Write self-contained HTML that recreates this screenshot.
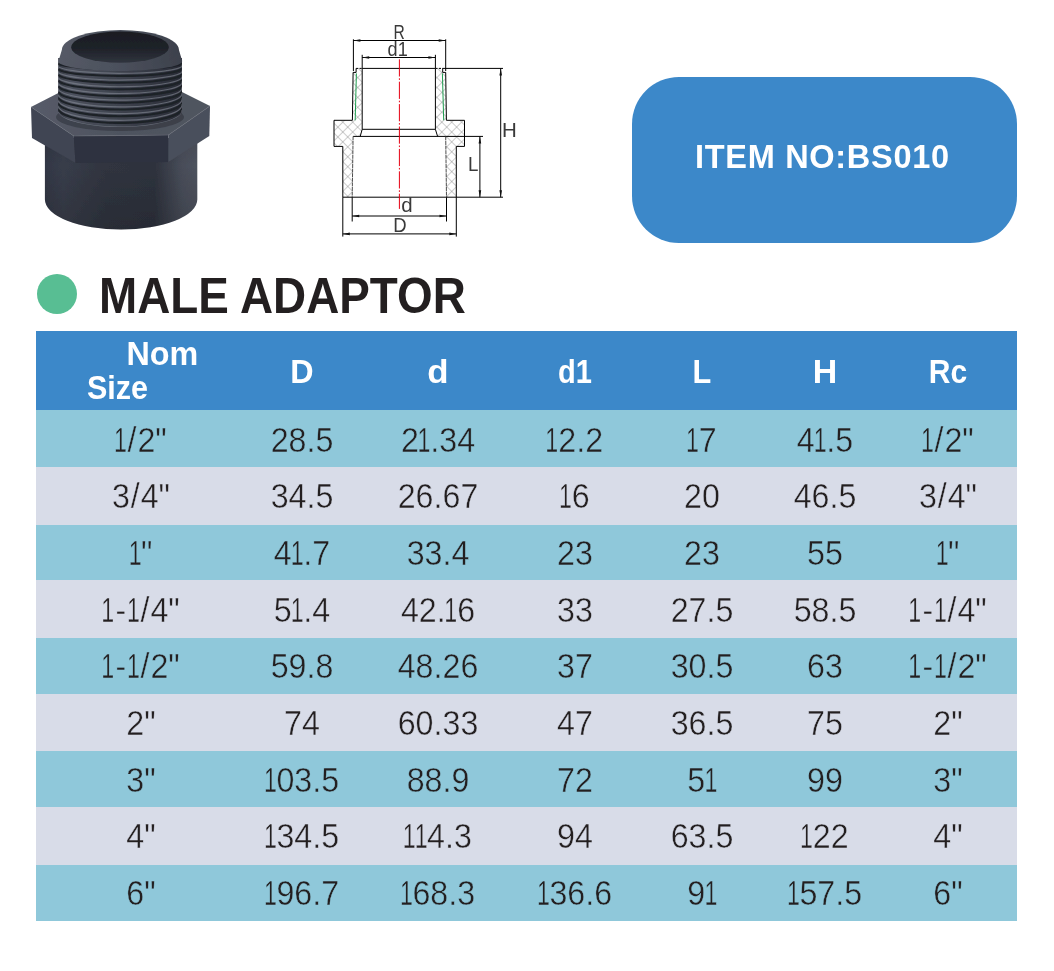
<!DOCTYPE html>
<html lang="en">
<head>
<meta charset="utf-8">
<title>Male Adaptor BS010</title>
<style>
html,body{margin:0;padding:0;background:#fff;}
body{width:1054px;height:971px;position:relative;overflow:hidden;font-family:"Liberation Sans",sans-serif;color:#231f20;}
.abs{position:absolute;}
#photo{left:0;top:0;width:300px;height:260px;}
#diagram{left:300px;top:10px;width:260px;height:240px;}
#item{left:632px;top:77px;width:385px;height:165.7px;border-radius:47px;background:#3c88c9;}
#item span{position:absolute;left:63px;top:62px;white-space:nowrap;font-weight:bold;font-size:32.5px;line-height:36px;color:#fff;letter-spacing:0.7px;}
#dot{left:37px;top:274px;width:40px;height:40px;border-radius:50%;background:#58be93;}
#title{left:99px;top:267.7px;font-weight:bold;font-size:49.3px;line-height:56px;white-space:nowrap;color:#231f20;transform:scaleX(.93);transform-origin:0 0;}
#tbl{left:36px;top:331px;width:981px;height:590px;}
.hd{position:absolute;left:0;top:0;width:981px;height:79px;background:#3c88c9;color:#fff;font-weight:bold;font-size:32.3px;}
.hn{line-height:34px;white-space:nowrap;transform-origin:0 0;}
.row{position:absolute;left:0;width:981px;font-size:35px;color:#231f20;}
.row .s{margin:0 1px;}
.row .h{margin:0 2px;}
.row i{font-style:normal;display:inline-block;transform:scaleX(.72);margin:0 -3px 0 -4px;}
.row.a{background:#8fc8da;}
.row.b{background:#d8dce8;}
.c{position:absolute;top:0;width:200px;text-align:center;white-space:nowrap;line-height:56px;}
.row .c{transform:scaleX(.92);}
.row.a .c{-webkit-text-stroke:0.45px #8fc8da;}
.row.b .c{-webkit-text-stroke:0.45px #d8dce8;}
.hd .c{line-height:79px;top:1.6px;}
.c1{left:5px}.c2{left:166px}.c3{left:302px}.c4{left:439px}.c5{left:566px}.c6{left:689px}.c7{left:812px}
</style>
</head>
<body>
<svg id="photo" class="abs" viewBox="0 0 300 260">
  <defs>
    <clipPath id="cpT"><path d="M58.2 40V112A61.8 16 0 0 0 181.9 110V40Z"/></clipPath>
    <filter id="soft" x="-5%" y="-5%" width="110%" height="110%"><feGaussianBlur stdDeviation="0.7"/></filter>
    <linearGradient id="gBody" x1="0" y1="0" x2="1" y2="0">
      <stop offset="0" stop-color="#323745"/>
      <stop offset="0.12" stop-color="#383d4a"/>
      <stop offset="0.4" stop-color="#30343f"/>
      <stop offset="0.72" stop-color="#2e323d"/>
      <stop offset="0.9" stop-color="#484d59"/>
      <stop offset="1" stop-color="#4e535e"/>
    </linearGradient>
    <linearGradient id="gBodyV" x1="0" y1="0" x2="0" y2="1">
      <stop offset="0" stop-color="#000" stop-opacity="0.08"/>
      <stop offset="0.3" stop-color="#000" stop-opacity="0"/>
      <stop offset="1" stop-color="#000" stop-opacity="0.15"/>
    </linearGradient>
    <linearGradient id="gThread" x1="0" y1="0" x2="1" y2="0">
      <stop offset="0" stop-color="#343843"/>
      <stop offset="0.1" stop-color="#4c515d"/>
      <stop offset="0.35" stop-color="#434853"/>
      <stop offset="0.7" stop-color="#363a45"/>
      <stop offset="0.92" stop-color="#2c2f39"/>
      <stop offset="1" stop-color="#262932"/>
    </linearGradient>
    <linearGradient id="gTop" x1="0" y1="0" x2="1" y2="0">
      <stop offset="0" stop-color="#565b68"/>
      <stop offset="0.5" stop-color="#4e535f"/>
      <stop offset="1" stop-color="#50555f"/>
    </linearGradient>
    <linearGradient id="gHole" x1="0" y1="0" x2="0" y2="1">
      <stop offset="0" stop-color="#1a1c23"/>
      <stop offset="0.55" stop-color="#1f2229"/>
      <stop offset="1" stop-color="#30343e"/>
    </linearGradient>
    <linearGradient id="gRim" x1="0" y1="0" x2="1" y2="0">
      <stop offset="0" stop-color="#555a66"/>
      <stop offset="0.5" stop-color="#4b505c"/>
      <stop offset="1" stop-color="#3d414c"/>
    </linearGradient>
  </defs>
  <g filter="url(#soft)">
    <path d="M44.9 138V199.5A76.2 30 0 0 0 197.3 199.5V138Z" fill="url(#gBody)"/>
    <path d="M44.9 138V199.5A76.2 30 0 0 0 197.3 199.5V138Z" fill="url(#gBodyV)"/>
    <path d="M31 107L72 86H170L210 106L168.4 135L73.8 136Z" fill="url(#gTop)"/>
    <path d="M31 107L73.8 136L75.5 163L32 138Z" fill="#3f4452"/>
    <path d="M73.8 136L168.4 135V162L75.5 163Z" fill="#2e323f"/>
    <path d="M168.4 135L210 106L209.3 136L168.4 162Z" fill="#4a4f5b"/>
    <path d="M31 107L73.8 136L168.4 135L210 106" fill="none" stroke="#626773" stroke-width="1" opacity=".6"/>
    <ellipse cx="120" cy="117" rx="64" ry="14" fill="#2a2d36" opacity=".5"/>
    <path d="M58.2 58V112A61.8 16 0 0 0 181.9 110V58Z" fill="url(#gThread)"/>
    <g fill="none" stroke-width="2.1" stroke="#1d2027" clip-path="url(#cpT)">
      <path d="M58.2 63.6A61.8 7.0 0 0 0 181.9 60.6"/><path d="M58.2 69.3A61.8 8.0 0 0 0 181.9 66.4"/><path d="M58.2 74.9A61.8 9.0 0 0 0 181.9 72.2"/><path d="M58.2 80.6A61.8 10.0 0 0 0 181.9 77.9"/><path d="M58.2 86.3A61.8 11.0 0 0 0 181.9 83.7"/><path d="M58.2 91.9A61.8 12.0 0 0 0 181.9 89.5"/><path d="M58.2 97.6A61.8 13.0 0 0 0 181.9 95.3"/><path d="M58.2 103.3A61.8 14.0 0 0 0 181.9 101.0"/><path d="M58.2 108.9A61.8 15.0 0 0 0 181.9 106.8"/><path d="M58.2 114.6A61.8 16.0 0 0 0 181.9 112.6"/>
    </g>
    <g fill="none" stroke-width="1.2" stroke="#868b96" opacity=".6" clip-path="url(#cpT)">
      <path d="M58.2 61.0A61.8 7.0 0 0 0 181.9 58.0"/><path d="M58.2 66.7A61.8 8.0 0 0 0 181.9 63.8"/><path d="M58.2 72.3A61.8 9.0 0 0 0 181.9 69.6"/><path d="M58.2 78.0A61.8 10.0 0 0 0 181.9 75.3"/><path d="M58.2 83.7A61.8 11.0 0 0 0 181.9 81.1"/><path d="M58.2 89.3A61.8 12.0 0 0 0 181.9 86.9"/><path d="M58.2 95.0A61.8 13.0 0 0 0 181.9 92.7"/><path d="M58.2 100.7A61.8 14.0 0 0 0 181.9 98.4"/><path d="M58.2 106.3A61.8 15.0 0 0 0 181.9 104.2"/><path d="M58.2 112.0A61.8 16.0 0 0 0 181.9 110.0"/>
    </g>
    <path d="M58.2 62L61.9 49.8H178.9L181.9 60A61.8 10 0 0 1 58.2 62Z" fill="url(#gRim)"/>
    <ellipse cx="120.4" cy="49.8" rx="58.5" ry="19.8" fill="url(#gRim)"/>
    <ellipse cx="120" cy="47.2" rx="48.8" ry="15.6" fill="url(#gHole)"/>
  </g>
</svg>
<svg id="diagram" class="abs" viewBox="300 10 260 240">
  <defs>
    <pattern id="hatch" patternUnits="userSpaceOnUse" width="7" height="7" patternTransform="rotate(45 340 120)">
      <path d="M0 0H7M0 0V7" stroke="#7a7a7a" stroke-width="0.75" fill="none"/>
    </pattern>
  </defs>
  <!-- hatched wall sections -->
  <path fill="url(#hatch)" d="M356.1 68.4H362.2V129.3L360.2 136.4H353.1L352.2 197.2H342.8V146.4H334V120.3H352.4L353.1 72.4H356.1Z"/>
  <path fill="url(#hatch)" d="M442.7 68.4H435.4V129.3L437.6 136.4H445.7L446.5 197.2H456.3V146.4H464.5V120.3H446.4L445.7 72.4H442.7Z"/>
  <g fill="none" stroke="#000" stroke-width="1" stroke-linecap="butt">
    <!-- outline left -->
    <path d="M356.1 68.4V72.4H353.1L352.4 120.3H334V146.4H342.8V197.2"/>
    <path d="M442.7 68.4V72.4H445.7L446.4 120.3H464.5V146.4H456.3V197.2"/>
    <!-- top & bottom long lines -->
    <path d="M362.2 68.4H435.4M442.7 68.4H503"/>
    <path d="M356.1 68.4H362.2M435.4 68.4H442.7" stroke-dasharray="2.2 1.2"/>
    <path d="M342.8 197.2H503"/>
    <!-- bore -->
    <path d="M362.2 68.4V129.3H435.4V68.4"/>
    <path d="M362.2 129.3L360.2 136.4M435.4 129.3L437.6 136.4"/>
    <path d="M353.1 136.4H483"/>
    <!-- dims -->
    <path d="M353.4 39.3V71M445.7 39.3V71M353.4 40.5H445.7"/>
    <path d="M362.2 54.8V68.4M435.4 54.8V68.4M362.2 57.5H435.4"/>
    <path d="M500.7 68.4V197.2M479.9 136.4V197.2"/>
    <path d="M352.2 197.2V221.5M446.5 197.2V221.5M352.2 216H446.5"/>
    <path d="M342.8 197.2V236.6M456.3 197.2V236.6M342.8 233.9H456.3"/>
  </g>
  <g fill="none" stroke="#777" stroke-width="0.8">
    <path d="M353.1 136.4L352.2 197.2M445.7 136.4L446.5 197.2" stroke="#3a3a3a" stroke-width="0.9" stroke-dasharray="4 0.6"/>
    
  </g>
  <path d="M356.4 73.4L355.2 120.3M442.4 73.4L443.7 120.3" stroke="#1f9e50" stroke-width="1" fill="none"/>
  <path d="M399.4 59.3V208.9" stroke="#e60012" stroke-width="1" stroke-dasharray="17.2 1.8 1.6 1.8" fill="none"/>
  <!-- arrows -->
  <g fill="#111">
    <path d="M353.4 40.5l7 -1.3v2.6zM445.7 40.5l-7 -1.3v2.6z"/>
    <path d="M362.2 57.5l7 -1.3v2.6zM435.4 57.5l-7 -1.3v2.6z"/>
    <path d="M352.2 216l7 -1.3v2.6zM446.5 216l-7 -1.3v2.6z"/>
    <path d="M342.8 233.9l7 -1.3v2.6zM456.3 233.9l-7 -1.3v2.6z"/>
    <path d="M500.7 68.4l-1.3 7h2.6zM500.7 197.2l-1.3 -7h2.6z"/>
    <path d="M479.9 136.4l-1.3 7h2.6zM479.9 197.2l-1.3 -7h2.6z"/>
  </g>
  <g font-family="Liberation Sans, sans-serif" font-size="19.5" fill="#3a3a3a" text-anchor="middle">
    <text transform="translate(399.2 38.5) scale(.8 1)">R</text>
    <text transform="translate(397.7 56) scale(.93 1)">d1</text>
    <text transform="translate(509.3 136.8) scale(1.05 1)">H</text>
    <text transform="translate(473.2 171.3) scale(.96 1)">L</text>
    <text transform="translate(407 212.2) scale(1.05 1)">d</text>
    <text transform="translate(400 231.6) scale(.95 1)">D</text>
  </g>
</svg>

<div id="item" class="abs"><span>ITEM NO:BS010</span></div>
<div id="dot" class="abs"></div>
<div id="title" class="abs">MALE ADAPTOR</div>

<div id="tbl" class="abs">
  <div class="hd">
    <div class="abs hn" style="left:90.4px;top:6.2px;">Nom</div>
    <div class="abs hn" style="left:50.6px;top:39.5px;transform:scaleX(.945);">Size</div>
    <div class="c c2">D</div><div class="c c3" style="transform:scaleX(1.08)">d</div><div class="c c4" style="transform:scaleX(.9)">d1</div><div class="c c5" style="transform:scaleX(.95)">L</div><div class="c c6" style="transform:scaleX(1.05)">H</div><div class="c c7" style="transform:scaleX(.93)">Rc</div>
  </div>
  <div class="row a" style="top:79.0px;height:56.6px"><div class="c c1" style="top:1.57px"><i>1</i><span class="s">/</span>2&quot;</div><div class="c c2" style="top:1.57px">28.5</div><div class="c c3" style="top:1.57px">2<i>1</i>.34</div><div class="c c4" style="top:1.57px"><i>1</i>2.2</div><div class="c c5" style="top:1.57px"><i>1</i>7</div><div class="c c6" style="top:1.57px">4<i>1</i>.5</div><div class="c c7" style="top:1.57px"><i>1</i><span class="s">/</span>2&quot;</div></div>
  <div class="row b" style="top:135.6px;height:58.0px"><div class="c c1" style="top:1.65px">3<span class="s">/</span>4&quot;</div><div class="c c2" style="top:1.65px">34.5</div><div class="c c3" style="top:1.65px">26.67</div><div class="c c4" style="top:1.65px"><i>1</i>6</div><div class="c c5" style="top:1.65px">20</div><div class="c c6" style="top:1.65px">46.5</div><div class="c c7" style="top:1.65px">3<span class="s">/</span>4&quot;</div></div>
  <div class="row a" style="top:193.6px;height:55.0px"><div class="c c1" style="top:0.33px"><i>1</i>&quot;</div><div class="c c2" style="top:0.33px">4<i>1</i>.7</div><div class="c c3" style="top:0.33px">33.4</div><div class="c c4" style="top:0.33px">23</div><div class="c c5" style="top:0.33px">23</div><div class="c c6" style="top:0.33px">55</div><div class="c c7" style="top:0.33px"><i>1</i>&quot;</div></div>
  <div class="row b" style="top:248.6px;height:58.1px"><div class="c c1" style="top:2.01px"><i>1</i><span class="h">-</span><i>1</i><span class="s">/</span>4&quot;</div><div class="c c2" style="top:2.01px">5<i>1</i>.4</div><div class="c c3" style="top:2.01px">42.<i>1</i>6</div><div class="c c4" style="top:2.01px">33</div><div class="c c5" style="top:2.01px">27.5</div><div class="c c6" style="top:2.01px">58.5</div><div class="c c7" style="top:2.01px"><i>1</i><span class="h">-</span><i>1</i><span class="s">/</span>4&quot;</div></div>
  <div class="row a" style="top:306.7px;height:56.2px"><div class="c c1" style="top:0.59px"><i>1</i><span class="h">-</span><i>1</i><span class="s">/</span>2&quot;</div><div class="c c2" style="top:0.59px">59.8</div><div class="c c3" style="top:0.59px">48.26</div><div class="c c4" style="top:0.59px">37</div><div class="c c5" style="top:0.59px">30.5</div><div class="c c6" style="top:0.59px">63</div><div class="c c7" style="top:0.59px"><i>1</i><span class="h">-</span><i>1</i><span class="s">/</span>2&quot;</div></div>
  <div class="row b" style="top:362.9px;height:56.9px"><div class="c c1" style="top:1.07px">2&quot;</div><div class="c c2" style="top:1.07px">74</div><div class="c c3" style="top:1.07px">60.33</div><div class="c c4" style="top:1.07px">47</div><div class="c c5" style="top:1.07px">36.5</div><div class="c c6" style="top:1.07px">75</div><div class="c c7" style="top:1.07px">2&quot;</div></div>
  <div class="row a" style="top:419.8px;height:56.2px"><div class="c c1" style="top:0.85px">3&quot;</div><div class="c c2" style="top:0.85px"><i>1</i>03.5</div><div class="c c3" style="top:0.85px">88.9</div><div class="c c4" style="top:0.85px">72</div><div class="c c5" style="top:0.85px">5<i>1</i></div><div class="c c6" style="top:0.85px">99</div><div class="c c7" style="top:0.85px">3&quot;</div></div>
  <div class="row b" style="top:476.0px;height:57.8px"><div class="c c1" style="top:1.33px">4&quot;</div><div class="c c2" style="top:1.33px"><i>1</i>34.5</div><div class="c c3" style="top:1.33px"><i>1</i><i>1</i>4.3</div><div class="c c4" style="top:1.33px">94</div><div class="c c5" style="top:1.33px">63.5</div><div class="c c6" style="top:1.33px"><i>1</i>22</div><div class="c c7" style="top:1.33px">4&quot;</div></div>
  <div class="row a" style="top:533.8px;height:56.2px"><div class="c c1" style="top:0.21px">6&quot;</div><div class="c c2" style="top:0.21px"><i>1</i>96.7</div><div class="c c3" style="top:0.21px"><i>1</i>68.3</div><div class="c c4" style="top:0.21px"><i>1</i>36.6</div><div class="c c5" style="top:0.21px">9<i>1</i></div><div class="c c6" style="top:0.21px"><i>1</i>57.5</div><div class="c c7" style="top:0.21px">6&quot;</div></div>
</div>
</body>
</html>
